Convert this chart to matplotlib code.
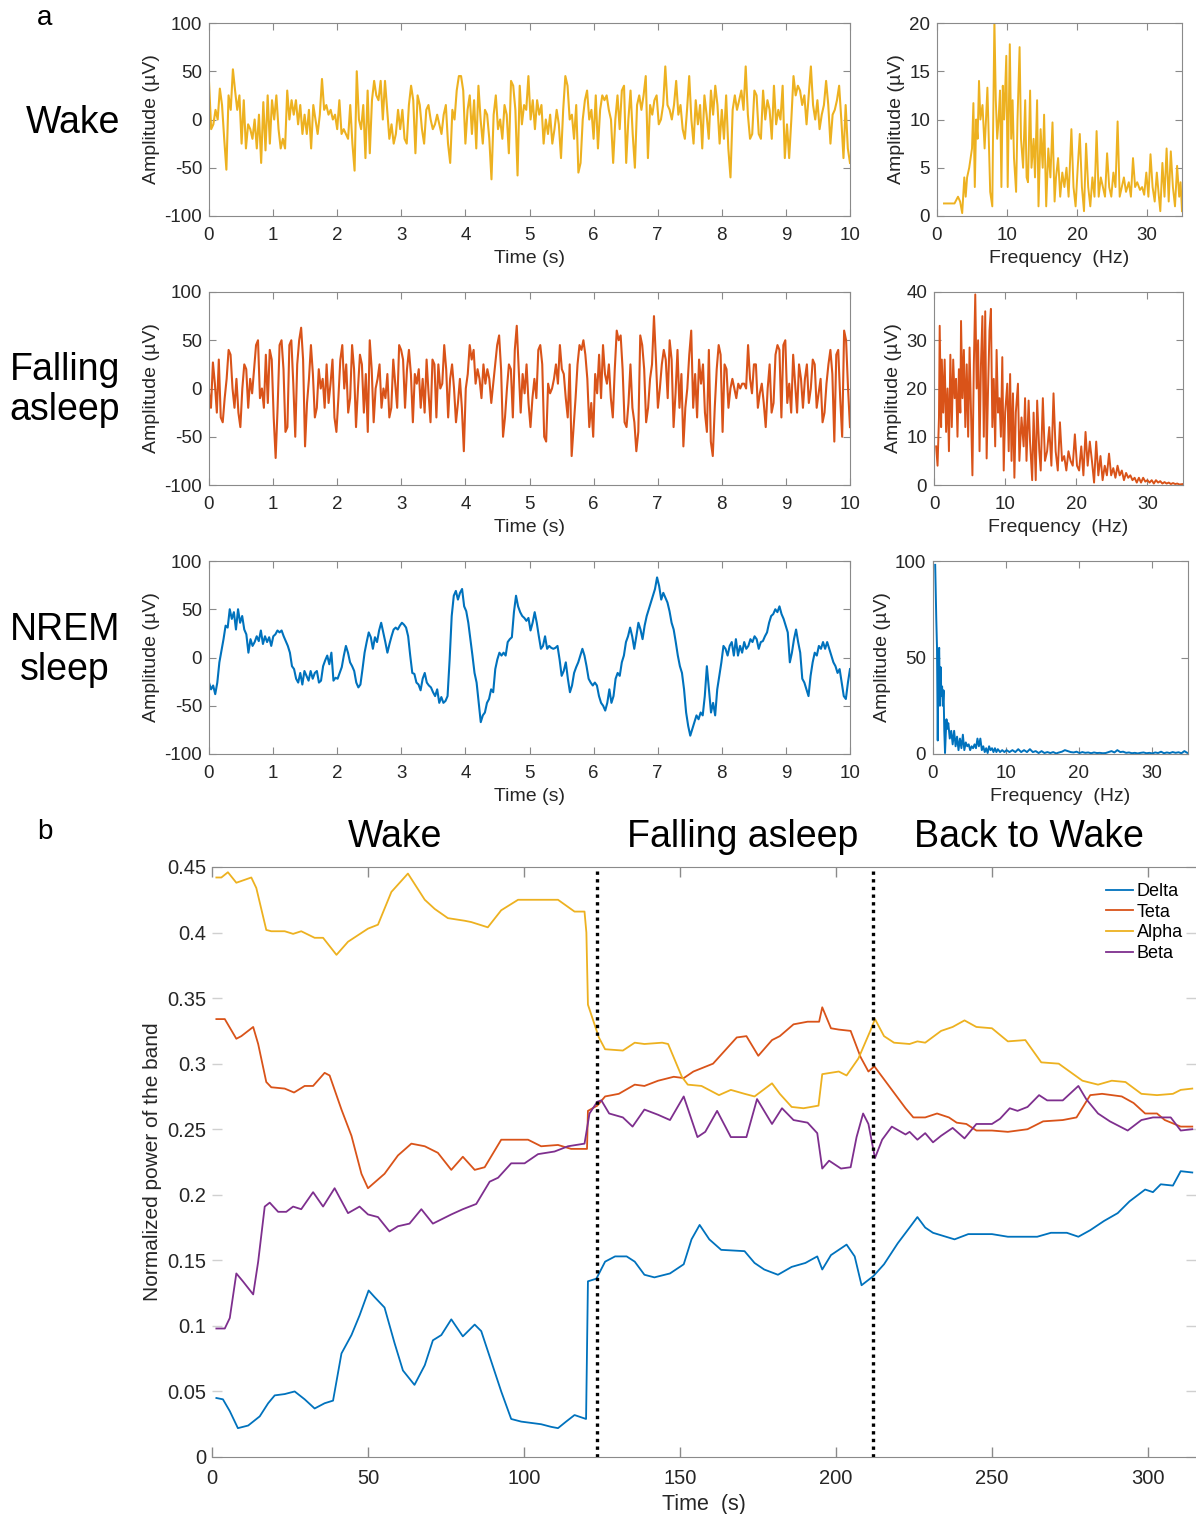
import numpy as np
import matplotlib.pyplot as plt

plt.rcParams['font.family'] = ['Liberation Sans', 'DejaVu Sans']
plt.rcParams['axes.unicode_minus'] = False

# colours (MATLAB default order)
c_blue = '#0072BD'
c_red = '#D95319'
c_yellow = '#EDB120'
c_purple = '#7E2F8E'

# ---------------- panel a : raw EEG, 10 s ----------------
wake_amp = [39, -10, -5, 10, 0, 32, 15, -20, -52, 25, 10, 52, 30, 10, 25, -25, 20, -30, -5, -10,
            -20, 0, -30, 5, -45, 18, -32, 25, -25, 20, 0, 25, -10, -30, -20, -30, 30, 0, 20, 5,
            20, -5, 15, -15, 5, -15, 10, -30, 15, 0, -15, 5, 42, 10, 15, 5, 10, 0, 5, -10,
            20, -15, -10, -15, -20, 15, -25, -53, 50, 0, -10, 15, -40, 30, -35, 20, 40, 25, 20, 40,
            0, 40, 10, -20, -5, -25, -15, 10, -10, 10, -20, -25, 15, 35, 20, -35, 25, 15, -10, -25,
            10, 15, 0, -10, -5, 5, -5, -15, 5, 15, -25, -45, 10, 0, 30, 45, 45, 30, -25, 10,
            25, -15, 20, -30, 35, 0, -25, 10, 5, -20, -62, 5, 25, -10, 0, -20, 15, 5, -35, 40,
            35, 10,
            -58, 35, -5, 15, 10, 45, 0, 20, -10, 20, 5, 15, -25, 0, -15, 5, -25, -10, 10, -5,
            -40, 10, 45, 35, 0, 5, -20, 15, -55, -45, 0, 20, 30, 0, 10, -20, 25, -30, 10, 25,
            20, 25, 10, 0, -45, 0, 25, -10, 30, 35, -45, 0, 30, -15, -50, 15, 25, 10, 25, 45,
            -40, 15, 5, 20, 25, -5, 0, 15, 55, 15, 10, 0, 15, 40, 5, 15, -10, -20, 10, 45,
            0, -25, 20, -5, 15, -30, 25, 5, -20, 30, 5, 35, 15, -25, 10, -20, 25, -30, -60, 10,
            25, 10, 20, 30, 10, 55, 5, -20, -15, 30, 25, -15, -20, 30, 0, 20, 10, -20, 35, -5,
            10, 0, 35, -40, -5, -40, 0, 45, 25, 35, 30, 15, 25, -5, 25, 55, 15, 0, 20, -10,
            5, 15, 40, 15, -25, 5, 10, 20, 35, 0, -40, 15, -30, -45]

falling_amp = [-4, -20, 27, 5, -25, 30, -30, -35, -10, 10, 40, 35, 0, -20, 10, -25, -40, 0, 25, 20,
               -20, 10, -5, 20, 45, 50, -10, 0, -20, 35, -15, 40, 30, -30, -72, -20, 45, 50, 20, -45,
               -40, 45, 50, 5, -50, 25, 50, 63, 30, -60, -15, 10, 45, 15, -30, -20, 20, 0, 10, -20,
               25, -15, 5, 30, -30, -45, -10, 30, 45, 0, 25, -25, -10, 45, 20, -40, 0, 35, 25, -25,
               15, -45, 50, 20, -35, 0, 10, 25, -20, 0, -10, 15, -30, -20, 30, 5, -20, 45, 40, 30,
               -20, 20, 40, 15, -35, 15, 5, 20, -20, 10, -25, 30, -5, -35, 30, 25, -30, 25, 0, 5,
               45, 20, -30, 10, 25, 0, -35, -15, 10, -20, -65, 0, 15, 45, 30, 40, 5, 20, 10, -10,
               25, 5, 20, 10, -15, 5, 25, 45, 55, 20, -50, -30, 0, 25, 20, -30, 40, 65, 20, -25,
               15, -5, 25, -15, -40, -10, 10, -10, 40, 45, 25, -50, -55, 5, -5, 0, 10, 25, 5, 45,
               20, 15, -10, -30, 25, -70, -40, -10, 25, 45, 40, 50, 35, 10, -40, -15, -50, 15, -5, 35,
               -10, 45, 15, 5, 25, -10, -30, 20, 60, 50, 55, 20, -35, -40, -15, 25, -20, -35, -65, -45,
               55, 45, 20, -35, -20, 10, 25, 75, 30, -20, 0, 25, 40, 30, -10, 50, 30, -40, -5, 40,
               -20, 15, -60, -20, 0, 35, 60, -20, 15, -30, 30, 5, 25, -25, -45, 40, -55, -70, -20, 20,
               45, 35, -45, 25, 20, -20, 0, 10, 0, -10, 5, 0, 5, 5, 0, 45, 10, -5, 25, 25,
               -20, -5, 5, -15, -40, 0, 25, -25, -15, 35, 45, 40, -30, 45, 50, -15, 5, -25, 35, 5,
               -25, 25, 10, -20, 10, 25, -15, 0, 30, 25, -20, -5, 10, -35, -25, 5, 25, 40, 15, -55,
               35, 40, -10, -50, 60, 50, 0, -40]

nrem_amp = [-26, -33, -29, -38, -26, -5, 7, 19, 33, 31, 50, 40, 47, 29, 50, 36, 43, 29, 24, 5,
            19, 12, 16, 22, 17, 28, 14, 22, 16, 21, 12, 22, 24, 28, 26, 28, 22, 17, 12, 5,
            -9, -12, -22, -26, -16, -28, -14, -19, -24, -14, -22, -16, -14, -26, -24, -9, -3, 2, -7, 5,
            -24, -21, -22, -16, -10, 2, 12, 5, -5, -9, -14, -26, -31, -28, -12, 5, 16, 26, 21, 9,
            21, 16, 28, 36, 26, 16, 5, 14, 22, 29, 31, 29, 33, 36, 34, 31, 22, 2, -16, -17,
            -26, -28, -34, -22, -16, -26, -29, -31, -36, -40, -33, -47, -41, -47, -45, -40, -2, 43, 64, 69,
            60, 67, 71, 53, 48, 36, 19, 2, -16, -26, -47, -67, -60, -57, -47, -43, -33, -36, -12, -2,
            5, 2, 5, 2, 16, 19, 21, 47, 64, 53, 47, 43, 41, 38, 41, 28, 36, 47, 36, 22,
            9, 12, 22, 9, 12, 10, 9, 10, 12, -2, -19, -14, -5, -22, -36, -29, -16, -10, -5, 2,
            9, 2, -9, -22, -26, -29, -26, -29, -40, -47, -50, -55, -47, -33, -47, -40, -22, -16, -19, -5,
            2, 16, 22, 31, 22, 9, 22, 36, 29, 19, 33, 43, 50, 57, 64, 71, 83, 74, 60, 67,
            62, 57, 48, 36, 29, 16, 2, -9, -16, -33, -57, -71, -81, -74, -67, -60, -64, -57, -60, -40,
            -9, -33, -57, -47, -60, -33, -19, -5, 12, 9, 2, 12, 16, 2, 19, 2, 12, 5, 16, 9,
            12, 19, 16, 22, 19, 9, 16, 17, 22, 26, 36, 43, 45, 50, 47, 53, 45, 40, 33, 26,
            -5, 5, 19, 29, 16, 5, -22, -26, -33, -40, -19, -5, 5, 2, 12, 9, 16, 9, 16, 9,
            2, -5, -9, -16, -12, -26, -40, -43, -26, -12]

# ---------------- panel a : spectra ----------------
wake_freq = [1.0, 2.5, 3.0, 3.3, 3.6, 3.9, 4.1, 4.3, 4.6, 5.0, 5.2, 5.4, 5.6, 5.8, 6.0, 6.2, 6.5, 6.8, 7.0, 7.2,
             7.6, 7.9, 8.0, 8.2, 8.4, 8.6, 8.8, 9.0, 9.2, 9.4, 9.6, 9.9, 10.1, 10.4, 10.6, 10.8, 11.0, 11.3, 11.5, 11.8,
             12.0, 12.3, 12.6, 12.8, 13.0, 13.3, 13.5, 13.8, 14.0, 14.3, 14.5, 14.8, 15.1, 15.3, 15.6, 15.9, 16.2, 16.5, 16.8, 17.0,
             17.3, 17.6, 17.9, 18.2, 18.5, 18.8, 19.2, 19.5, 19.8, 20.1, 20.4, 20.7, 21.0, 21.3, 21.6, 21.9, 22.2, 22.5, 22.8, 23.1,
             23.4, 23.7, 24.0, 24.3, 24.6, 24.9, 25.2, 25.5, 25.8, 26.1, 26.4, 26.7, 27.0, 27.4, 27.7, 28.0, 28.3, 28.6, 29.0, 29.3,
             29.6, 29.9, 30.2, 30.5, 30.8, 31.1, 31.4, 31.7, 31.9, 32.2, 32.5, 32.8, 33.1, 33.4, 33.7, 34.0, 34.3, 34.6, 34.8, 35.0]
wake_spec = [1.3, 1.3, 2.0, 1.5, 0.3, 4.0, 2.0, 4.0, 5.0, 7.0, 11.7, 3.0, 10.0, 8.0, 14.0, 10.0, 11.5, 7.0, 10.0, 13.3,
             2.5, 1.0, 8.0, 20.3, 12.0, 8.0, 10.0, 13.0, 3.0, 13.5, 10.0, 16.6, 3.0, 17.8, 8.0, 12.0, 6.0, 2.5, 10.0, 17.5,
             8.0, 5.0, 12.0, 4.0, 3.5, 13.0, 5.0, 8.0, 4.0, 12.0, 1.0, 9.0, 5.0, 10.5, 1.0, 7.0, 4.0, 9.7, 1.5, 4.0,
             6.0, 2.0, 4.5, 3.0, 5.0, 2.0, 9.0, 3.0, 1.0, 5.0, 8.5, 3.0, 0.5, 7.5, 3.0, 1.0, 4.0, 2.0, 8.8, 2.0,
             4.0, 3.0, 2.0, 6.5, 3.0, 2.0, 4.5, 3.0, 9.8, 2.0, 3.0, 4.0, 2.5, 3.5, 2.0, 6.0, 3.0, 3.5, 2.7, 3.0,
             2.2, 4.5, 2.0, 6.4, 3.0, 1.5, 4.5, 2.0, 0.5, 5.5, 2.0, 7.0, 1.5, 6.7, 3.0, 1.0, 5.2, 2.0, 3.5, 0.5]

falling_freq = [0.3, 0.5, 0.7, 0.8, 1.0, 1.1, 1.3, 1.5, 1.7, 1.9, 2.1, 2.3, 2.5, 2.7, 2.9, 3.1, 3.3, 3.5, 3.7, 3.8,
                4.0, 4.2, 4.4, 4.6, 4.8, 5.0, 5.2, 5.4, 5.6, 5.8, 6.0, 6.2, 6.4, 6.6, 6.8, 7.0, 7.2, 7.4, 7.6, 7.8,
                8.0, 8.2, 8.4, 8.6, 8.8, 9.0, 9.2, 9.4, 9.6, 9.8, 10.0, 10.3, 10.5, 10.7, 10.9, 11.1, 11.3, 11.5, 11.8, 12.0,
                12.3, 12.6, 12.8, 13.0, 13.3, 13.5, 13.8, 14.0, 14.3, 14.5, 14.8, 15.0, 15.3, 15.6, 15.9, 16.2, 16.5, 16.8, 17.1, 17.4,
                17.7, 18.0, 18.3, 18.6, 18.9, 19.2, 19.5, 19.8, 20.1, 20.4, 20.7, 21.0, 21.3, 21.6, 21.9, 22.2, 22.5, 22.8, 23.1, 23.4,
                23.7, 24.0, 24.3, 24.6, 24.9, 25.2, 25.5, 25.8, 26.1, 26.4, 26.7, 27.0, 27.3, 27.6, 27.9, 28.2, 28.5, 28.8, 29.1, 29.4,
                29.7, 30.0, 30.3, 30.6, 30.9, 31.2, 31.5, 31.8, 32.1, 32.4, 32.7, 33.0, 33.3, 33.6, 33.9, 34.2, 34.5, 35.0]
falling_spec = [8, 4, 14, 33, 12, 26, 15, 26, 11, 20, 7, 27, 12, 26, 18, 22, 10, 24, 15, 34,
                18, 28, 12, 25, 10, 28.5, 15, 2, 25, 39.5, 20, 30, 7, 25, 35, 10, 36, 5.5, 20, 32,
                36.5, 12, 22, 8, 28, 15, 18, 10, 26.5, 3, 15, 21, 7, 23, 5, 19, 1.5, 15, 21, 5,
                14, 8, 18, 5, 17.5, 9, 1, 15, 1, 17.5, 7, 3, 18, 5, 7, 12, 4, 19, 7, 3,
                13, 5, 6, 3, 7, 5, 4, 10.5, 4, 3, 8, 2, 11, 4, 9, 5, 0.5, 9, 2, 6,
                1, 4, 2, 6.5, 2, 3.5, 1.5, 4, 2, 3, 1, 2.5, 1.5, 2, 1, 1.5, 0.5, 1.5, 0.5, 1.5,
                0.7, 1, 0.5, 1, 0.3, 1, 0.5, 0.8, 0.3, 0.6, 0.3, 0.5, 0.2, 0.4, 0.2, 0.3, 0.1, 0.2]

nrem_freq_low = [0.3, 0.45, 0.55, 0.65, 0.75, 0.85, 0.95, 1.05, 1.15, 1.25, 1.35, 1.45, 1.55, 1.65, 1.75, 1.85, 1.95,
                 2.1, 2.3, 2.5, 2.7, 2.9, 3.1, 3.3, 3.5, 3.7, 3.9, 4.1, 4.3, 4.5, 4.7, 4.9, 5.1, 5.3, 5.5, 5.7, 5.9,
                 6.1, 6.3, 6.5, 6.7, 6.9, 7.1, 7.3, 7.5, 7.7, 7.9, 8.1, 8.3, 8.5, 8.7, 8.9, 9.2, 9.5, 9.8]
nrem_spec_low = [98, 70, 55, 7, 50, 55, 25, 45, 30, 35, 25, 33, 12, 0.5, 10, 18, 13,
                 16, 8, 12, 5, 12, 4, 9, 2, 8, 3, 10, 2, 6, 4, 5, 2, 4, 3, 5, 3,
                 8, 4, 8, 2, 4, 1, 3, 0.5, 4, 2, 3, 1, 3, 1, 2.5, 1, 2, 1]
# 10.1 .. 34.9 Hz, 0.4 Hz bins
nrem_spec_high = [2, 1, 2, 1, 2.5, 1, 2, 1, 2.5, 1, 1.5, 0.5, 1.5, 0.5, 1, 0.5, 1, 0.3, 0.8, 1.2,
                  2, 1.5, 1, 0.8, 1.2, 0.5, 1, 0.6, 0.8, 0.4, 0.8, 0.5, 0.6, 0.4, 0.5, 1, 1.5, 0.8, 2, 1,
                  1.2, 0.6, 0.8, 0.4, 0.6, 0.3, 0.6, 0.8, 0.4, 0.6, 0.3, 0.8, 0.5, 1.2, 0.4, 0.8, 0.5, 1, 0.6, 0.9,
                  0.4, 1.5, 0.6]

# ---------------- panel b : normalized band power ----------------
delta_t = [1.4, 3.5, 5.7, 8.3, 11.6, 15.3, 18.0, 20.1, 23.3, 26.5, 29.7, 32.9, 36.1, 38.8, 41.5, 44.7, 47.3, 50.2, 52.1, 55.3,
           58.5, 61.2, 64.9, 68.2, 70.8, 73.5, 76.7, 80.4, 84.2, 86.3, 89.5, 92.7, 95.9, 99.1, 102.3, 105.5, 108.7, 110.9, 113.5, 116.2,
           119.9, 120.5, 123.2, 126.0, 129.2, 132.9, 135.5, 138.6, 141.8, 146.8, 151.2, 153.7, 156.3, 159.4, 163.2, 170.7, 173.9, 177.0, 181.4, 185.8,
           190.2, 194.0, 195.6, 198.4, 203.4, 206.0, 208.2, 212.0, 215.4, 219.8, 223.6, 226.1, 228.6, 231.1, 238.0, 242.4, 250.0, 255.1, 260.1, 264.5,
           268.9, 274.0, 277.7, 281.5, 285.9, 290.3, 294.1, 299.1, 301.6, 304.1, 308.0, 310.5, 314.2]
delta_v = [0.045, 0.044, 0.035, 0.022, 0.024, 0.031, 0.041, 0.047, 0.048, 0.050, 0.044, 0.037, 0.041, 0.043, 0.079, 0.093, 0.108, 0.127, 0.122, 0.114,
           0.087, 0.066, 0.055, 0.070, 0.089, 0.093, 0.105, 0.092, 0.101, 0.096, 0.073, 0.050, 0.029, 0.027, 0.026, 0.025, 0.023, 0.022, 0.027, 0.032,
           0.029, 0.134, 0.136, 0.149, 0.153, 0.153, 0.149, 0.139, 0.137, 0.140, 0.147, 0.166, 0.177, 0.166, 0.158, 0.157, 0.148, 0.143, 0.139, 0.145,
           0.148, 0.153, 0.143, 0.154, 0.162, 0.153, 0.131, 0.138, 0.147, 0.163, 0.175, 0.183, 0.175, 0.171, 0.166, 0.170, 0.170, 0.168, 0.168, 0.168,
           0.171, 0.171, 0.168, 0.173, 0.180, 0.186, 0.195, 0.204, 0.202, 0.208, 0.207, 0.218, 0.217]

teta_t = [1.4, 4.1, 7.8, 9.4, 13.2, 14.8, 17.4, 19.0, 23.3, 26.3, 29.7, 32.4, 36.1, 37.7, 41.5, 44.7, 47.9, 50.0, 55.3, 59.6,
          63.9, 68.2, 72.4, 76.7, 80.4, 84.2, 87.4, 92.7, 97.0, 101.3, 105.5, 110.9, 115.1, 120.2, 120.5, 123.5, 126.0, 130.4, 135.5, 138.6,
          143.0, 148.0, 151.2, 154.3, 160.6, 164.4, 168.2, 171.3, 175.1, 179.5, 182.0, 186.4, 190.9, 194.6, 195.6, 198.4, 200.9, 204.7, 207.9, 210.4,
          212.3, 217.3, 222.3, 224.8, 228.6, 232.4, 236.2, 238.7, 241.8, 245.0, 250.0, 255.1, 261.4, 266.4, 272.7, 277.1, 281.5, 285.3, 291.6, 295.4,
          299.1, 302.9, 305.4, 310.5, 314.2]
teta_v = [0.334, 0.334, 0.319, 0.321, 0.328, 0.315, 0.286, 0.282, 0.281, 0.278, 0.283, 0.283, 0.293, 0.291, 0.265, 0.245, 0.216, 0.205, 0.216, 0.230,
          0.239, 0.237, 0.232, 0.219, 0.229, 0.219, 0.221, 0.242, 0.242, 0.242, 0.237, 0.238, 0.235, 0.235, 0.264, 0.268, 0.275, 0.277, 0.284, 0.283,
          0.287, 0.290, 0.289, 0.294, 0.300, 0.310, 0.320, 0.321, 0.306, 0.318, 0.321, 0.330, 0.332, 0.332, 0.343, 0.327, 0.326, 0.325, 0.305, 0.294,
          0.298, 0.282, 0.266, 0.259, 0.259, 0.262, 0.259, 0.255, 0.254, 0.249, 0.249, 0.248, 0.250, 0.256, 0.257, 0.259, 0.276, 0.277, 0.275, 0.270,
          0.262, 0.262, 0.257, 0.252, 0.252]

alpha_t = [1.4, 3.0, 5.1, 7.8, 12.6, 14.2, 17.4, 19.0, 23.3, 26.0, 28.6, 32.9, 35.6, 39.9, 43.6, 46.8, 50.0, 53.2, 57.5, 62.8,
           68.2, 71.4, 75.6, 81.0, 83.1, 88.4, 92.7, 98.1, 104.5, 110.9, 116.2, 119.4, 120.0, 120.5, 122.6, 124.0, 126.0, 131.7, 135.5, 138.6,
           144.3, 146.2, 150.6, 152.5, 156.9, 162.5, 166.3, 170.7, 173.9, 179.5, 182.0, 185.8, 189.6, 194.4, 195.6, 200.9, 203.4, 207.2, 211.0, 212.5,
           215.4, 218.6, 223.6, 226.1, 228.6, 233.7, 237.4, 241.2, 245.0, 250.0, 255.1, 260.7, 265.8, 271.4, 279.0, 284.0, 288.4, 292.8, 297.9, 302.9,
           308.0, 310.5, 314.2]
alpha_v = [0.442, 0.442, 0.446, 0.438, 0.442, 0.434, 0.402, 0.401, 0.401, 0.399, 0.401, 0.396, 0.396, 0.383, 0.393, 0.398, 0.403, 0.406, 0.431, 0.445,
           0.425, 0.418, 0.411, 0.409, 0.408, 0.404, 0.417, 0.425, 0.425, 0.425, 0.416, 0.416, 0.400, 0.345, 0.330, 0.320, 0.311, 0.310, 0.316, 0.315,
           0.316, 0.315, 0.290, 0.284, 0.283, 0.276, 0.280, 0.277, 0.275, 0.285, 0.277, 0.267, 0.266, 0.268, 0.292, 0.294, 0.291, 0.304, 0.325, 0.334,
           0.321, 0.316, 0.315, 0.317, 0.316, 0.325, 0.328, 0.333, 0.328, 0.327, 0.317, 0.318, 0.301, 0.300, 0.287, 0.284, 0.287, 0.286, 0.277, 0.276,
           0.277, 0.280, 0.281]

beta_t = [1.4, 4.1, 5.7, 7.8, 9.9, 13.2, 14.8, 16.9, 18.5, 21.2, 23.8, 26.0, 28.6, 32.4, 35.6, 39.3, 43.6, 47.3, 50.0, 53.2,
          56.9, 59.6, 63.3, 67.1, 70.8, 76.7, 80.4, 84.7, 89.0, 91.7, 95.9, 100.2, 104.5, 109.8, 114.1, 119.4, 121.0, 123.5, 124.8, 127.3,
          131.7, 134.8, 138.6, 143.0, 146.8, 151.2, 155.6, 158.1, 161.9, 166.3, 171.3, 174.7, 179.5, 182.7, 186.4, 190.9, 194.0, 195.6, 197.8, 201.6,
          204.7, 206.6, 208.7, 210.4, 212.5, 214.8, 217.9, 222.3, 223.6, 226.1, 228.6, 231.1, 233.7, 237.4, 241.2, 245.0, 250.0, 252.6, 255.7, 258.2,
          261.4, 265.1, 267.7, 272.7, 277.7, 280.2, 284.0, 287.8, 293.5, 297.9, 301.6, 304.8, 307.3, 310.5, 314.2]
beta_v = [0.098, 0.098, 0.106, 0.140, 0.134, 0.124, 0.149, 0.191, 0.194, 0.187, 0.187, 0.191, 0.189, 0.202, 0.191, 0.205, 0.186, 0.191, 0.185, 0.183,
          0.172, 0.176, 0.178, 0.189, 0.178, 0.185, 0.189, 0.193, 0.210, 0.213, 0.224, 0.224, 0.231, 0.233, 0.237, 0.239, 0.262, 0.271, 0.272, 0.262,
          0.259, 0.252, 0.265, 0.261, 0.257, 0.275, 0.244, 0.248, 0.264, 0.244, 0.244, 0.273, 0.254, 0.266, 0.257, 0.255, 0.247, 0.220, 0.226, 0.220,
          0.221, 0.244, 0.262, 0.254, 0.228, 0.242, 0.252, 0.246, 0.248, 0.242, 0.247, 0.240, 0.245, 0.251, 0.243, 0.254, 0.254, 0.258, 0.266, 0.264,
          0.267, 0.276, 0.272, 0.272, 0.283, 0.273, 0.262, 0.256, 0.249, 0.257, 0.259, 0.259, 0.259, 0.249, 0.250]

phase_names = ['Wake', 'Falling asleep', 'Back to Wake']
phase_bounds = [123.5, 212.0]
band_names = ['Delta', 'Teta', 'Alpha', 'Beta']

# ---------------- figure ----------------
W, H = 1196, 1514
fig = plt.figure(figsize=(W / 100, H / 100), dpi=100)


def rect(l, t, r, b):
    return [l / W, 1 - b / H, (r - l) / W, (b - t) / H]


def matlab_axes(ax):
    for s in ax.spines.values():
        s.set_color('#8a8a8a')
        s.set_linewidth(0.8)
    ax.tick_params(direction='in', top=True, right=True, length=5, width=0.8,
                   color='#8a8a8a', labelsize=13.5, labelcolor='#262626')
    ax.tick_params(axis='x', pad=8)
    ax.tick_params(axis='y', pad=5)


# row label position (x, y in pixels) is kept with the layout of each row
rows = [
    ('Wake', wake_amp, wake_freq, wake_spec, c_yellow, 23, 216, 937, 1182, 20, [0, 5, 10, 15, 20], 73, 123),
    ('Falling\nasleep', falling_amp, falling_freq, falling_spec, c_red, 292, 485, 934, 1183, 40, [0, 10, 20, 30, 40], 65, 390),
    ('NREM\nsleep', nrem_amp,
     nrem_freq_low + list(np.linspace(10.1, 34.9, len(nrem_spec_high))),
     nrem_spec_low + nrem_spec_high, c_blue, 561, 754, 933, 1188, 100, [0, 50, 100], 65, 650),
]

for name, amp, freq, spec, col, top, bot, fl, fr, fmax, fticks, lx, ly in rows:
    ax = fig.add_axes(rect(209, top, 850, bot))
    t = np.linspace(0, 10, len(amp))
    ax.plot(t, amp, color=col, lw=1.5)
    ax.set_xlim(0, 10)
    ax.set_ylim(-100, 100)
    ax.set_xticks(range(11))
    ax.set_yticks([-100, -50, 0, 50, 100])
    ax.set_xlabel('Time (s)', fontsize=14, color='#262626', labelpad=4)
    ax.set_ylabel('Amplitude (µV)', fontsize=14, color='#262626', labelpad=3)
    matlab_axes(ax)

    axf = fig.add_axes(rect(fl, top, fr, bot))
    axf.plot(freq, spec, color=col, lw=1.4)
    axf.set_xlim(0, 35)
    axf.set_ylim(0, fmax)
    axf.set_xticks([0, 10, 20, 30])
    axf.set_yticks(fticks)
    axf.set_xlabel('Frequency  (Hz)', fontsize=14, color='#262626', labelpad=4)
    axf.set_ylabel('Amplitude (µV)', fontsize=14, color='#262626', labelpad=3)
    matlab_axes(axf)

    fig.text(lx / W, 1 - ly / H, name, fontsize=27, ha='center', va='center',
             linespacing=1.15)

fig.text(45 / W, 1 - 18 / H, 'a', fontsize=20, ha='center', va='center')
fig.text(45 / W, 1 - 832 / H, 'b', fontsize=20, ha='center', va='center')

# panel b
axb = fig.add_axes(rect(212, 867, 1196, 1457))
axb.plot(delta_t, delta_v, color=c_blue, lw=1.3, label=band_names[0])
axb.plot(teta_t, teta_v, color=c_red, lw=1.3, label=band_names[1])
axb.plot(alpha_t, alpha_v, color=c_yellow, lw=1.3, label=band_names[2])
axb.plot(beta_t, beta_v, color=c_purple, lw=1.3, label=band_names[3])
for xb in phase_bounds:
    axb.axvline(xb, color='black', lw=2.4, ls=(0, (1, 1.3)))

axb.set_xlim(0, 315.4)
axb.set_ylim(0, 0.45)
axb.set_xticks([0, 50, 100, 150, 200, 250, 300])
yt = [0, 0.05, 0.1, 0.15, 0.2, 0.25, 0.3, 0.35, 0.4, 0.45]
axb.set_yticks(yt)
axb.set_yticklabels(['%g' % v for v in yt])
axb.spines['left'].set_visible(False)
axb.spines['right'].set_visible(False)
axb.spines['top'].set_color('#8a8a8a')
axb.spines['bottom'].set_color('#8a8a8a')
axb.tick_params(axis='x', direction='in', top=True, length=7, width=1, color='#8a8a8a',
                labelsize=14.5, labelcolor='#262626', pad=9)
axb.tick_params(axis='y', direction='in', right=True, length=7, width=1, color='#d0d0d0',
                labelsize=14.5, labelcolor='#262626', pad=4)
axb.set_xlabel('Time  (s)', fontsize=15.5, color='#262626', labelpad=4)
axb.set_ylabel('Normalized power of the band', fontsize=15, color='#262626', labelpad=4)

phase_x = [58.7, 170.0, 262.0]
for px, pn in zip(phase_x, phase_names):
    axb.text(px, 1.051, pn, transform=axb.get_xaxis_transform(), fontsize=27,
             ha='center', va='center')

axb.legend(frameon=False, loc='upper right', bbox_to_anchor=(0.994, 0.985), fontsize=13,
           handlelength=1.5, handletextpad=0.2, labelspacing=0.2, borderaxespad=0)

fig.savefig('out.png', dpi=100)
